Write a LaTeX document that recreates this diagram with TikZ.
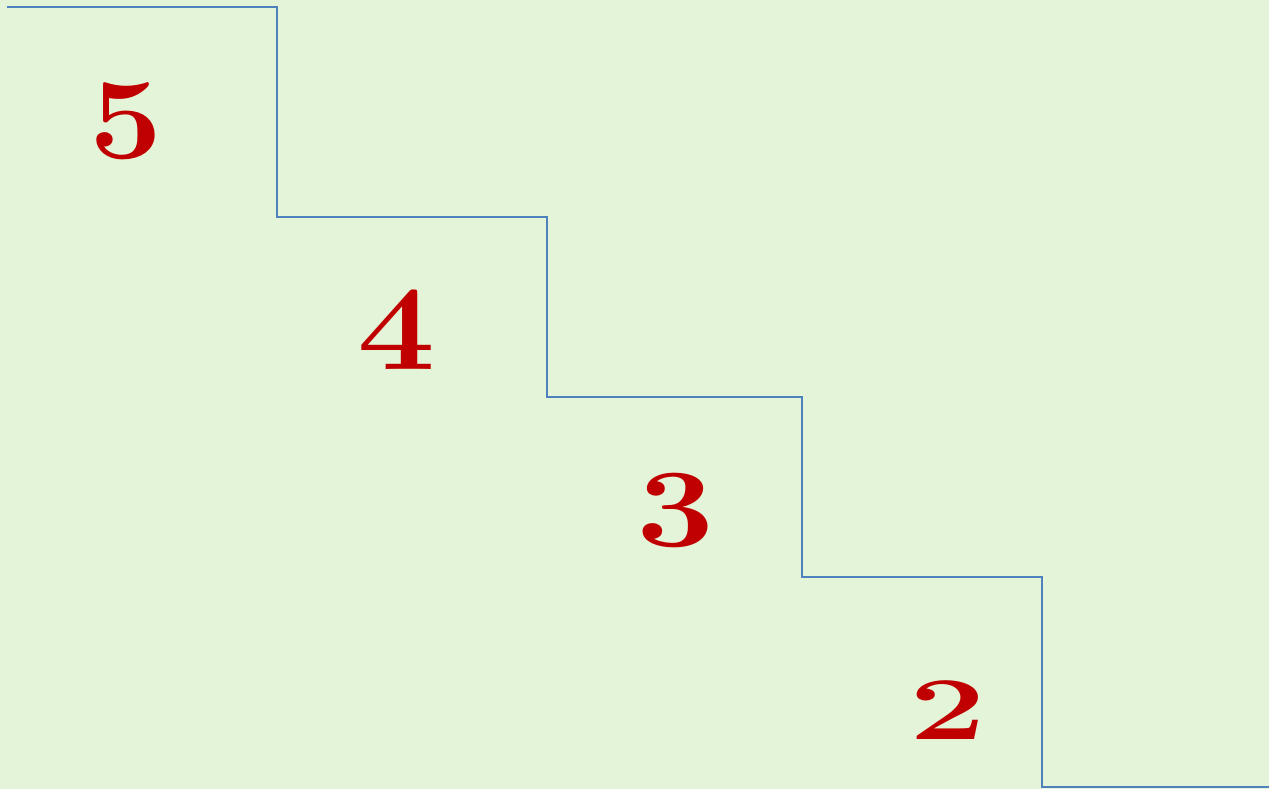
\documentclass[tikz,border=0pt]{standalone}
\usepackage{fontspec}
\setmainfont{Latin Modern Roman}
\definecolor{bg}{HTML}{E4F4D8}
\definecolor{stair}{HTML}{4F81BD}
\definecolor{num}{HTML}{C00000}
\begin{document}
\begin{tikzpicture}[x=1pt,y=-1pt,
  digit/.style={text=num,inner sep=0pt,anchor=base,font=\bfseries\fontsize{130}{130}\selectfont}]
\useasboundingbox (0,0) rectangle (1269,789);
\fill[bg] (0,0) rectangle (1269,789);
\coordinate (s0) at (7,7);
\coordinate (s1) at (277,7);
\coordinate (s2) at (277,217);
\coordinate (s3) at (547,217);
\coordinate (s4) at (547,397);
\coordinate (s5) at (802,397);
\coordinate (s6) at (802,577);
\coordinate (s7) at (1042,577);
\coordinate (s8) at (1042,787);
\coordinate (s9) at (1269,787);
\draw[stair,line width=2pt] (s0) -- (s1) -- (s2) -- (s3) -- (s4) -- (s5) -- (s6) -- (s7) -- (s8) -- (s9);
\node[digit] (n5) at (126,158) {\scalebox{1.0}[0.89]{5}};
\node[digit] (n4) at (397,369) {\scalebox{1.07}[0.93]{4}};
\node[digit] (n3) at (676,546) {\scalebox{1.07}[0.86]{3}};
\node[digit] (n2) at (948,739) {\scalebox{1.05}[0.69]{2}};
\end{tikzpicture}
\end{document}
